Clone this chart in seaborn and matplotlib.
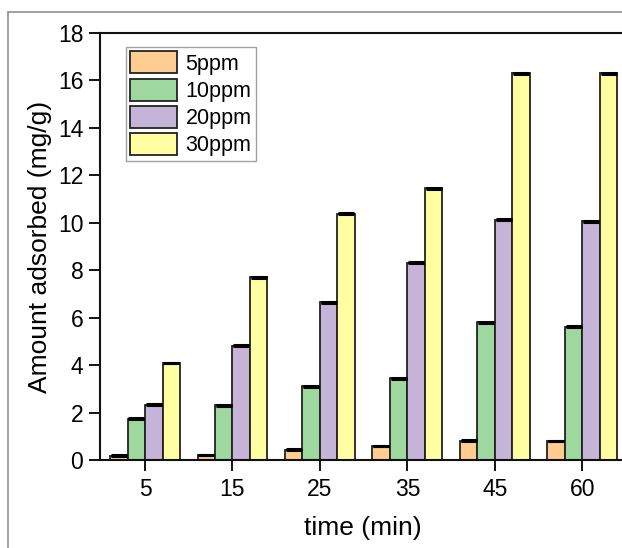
import matplotlib.pyplot as plt
import pandas as pd
import seaborn as sns
from matplotlib.lines import Line2D

# values
times = ["5", "15", "25", "35", "45", "60"]
ppm5 = [0.18, 0.21, 0.43, 0.59, 0.81, 0.80]
ppm10 = [1.74, 2.31, 3.11, 3.45, 5.80, 5.62]
ppm20 = [2.33, 4.81, 6.65, 8.32, 10.12, 10.06]
ppm30 = [4.09, 7.70, 10.39, 11.45, 16.30, 16.30]
labels = ["5ppm", "10ppm", "20ppm", "30ppm"]
colors = ["#FFCC91", "#9ED89E", "#C6B3D8", "#FFFFA2"]

df = pd.DataFrame({"time": times * 4,
                   "value": ppm5 + ppm10 + ppm20 + ppm30,
                   "conc": sum([[l] * len(times) for l in labels], [])})

sns.set_style("ticks")
plt.rcParams['font.family'] = ['Liberation Sans', 'DejaVu Sans']
plt.rcParams.update({"text.color": "black", "axes.labelcolor": "black",
                     "xtick.color": "black", "ytick.color": "black"})

fig = plt.figure(figsize=(6.22, 5.48), dpi=100)
ax = fig.add_axes([100 / 622, 88 / 548, 526 / 622, 427 / 548])

sns.barplot(data=df, x="time", y="value", hue="conc", palette=colors,
            order=times, hue_order=labels, width=0.8, gap=0, saturation=1,
            edgecolor="#222222", linewidth=1.3, ax=ax)

# small error caps on top of each bar
for p in ax.patches:
    h = p.get_height()
    if h == 0:
        continue
    cx = p.get_x() + p.get_width() / 2
    ax.errorbar(cx, h, yerr=0.02, fmt="none", ecolor="black",
                capsize=5.5, capthick=2.2, elinewidth=0)

ax.set_ylim(0, 18)
ax.set_xlim(-0.515, 5.5)
ax.set_yticks(range(0, 19, 2))
ax.set_xlabel("time (min)", fontsize=19, labelpad=11)
ax.set_ylabel("Amount adsorbed (mg/g)", fontsize=19, labelpad=4)
ax.tick_params(axis="both", labelsize=16.5, direction="out", width=1.3,
               color="black", labelcolor="black", length=8)
ax.tick_params(axis="y", pad=4)
ax.tick_params(axis="x", pad=5)
for s in ax.spines.values():
    s.set_linewidth(1.5)
    s.set_color("#111111")

leg = ax.legend(loc="upper left", bbox_to_anchor=(0.049, 0.967),
                borderaxespad=0, fontsize=15.5, frameon=True, fancybox=False,
                handlelength=2.2, handleheight=1.2, labelspacing=0.18,
                handletextpad=0.38, borderpad=0.2, title=None)
leg.get_frame().set_edgecolor("#888888")
leg.get_frame().set_linewidth(1.0)

# grey page border
fig.add_artist(Line2D([8 / 622, 8 / 622], [0, 1 - 12 / 548],
                      color="#909090", lw=1.2, transform=fig.transFigure))
fig.add_artist(Line2D([8 / 622, 1], [1 - 12 / 548, 1 - 12 / 548],
                      color="#909090", lw=1.2, transform=fig.transFigure))

fig.savefig("out.png", dpi=100)
